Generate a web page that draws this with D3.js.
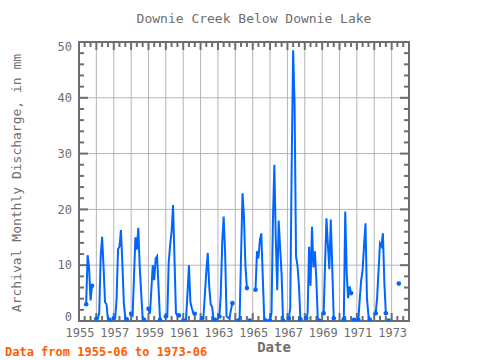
<!DOCTYPE html>
<html>
<head>
<meta charset="utf-8">
<script src="https://cdn.jsdelivr.net/npm/d3@7"></script>
<style>
  body { margin: 0; background: #fff; }
  text { font-family: "DejaVu Sans Mono", "Liberation Mono", monospace; }
</style>
</head>
<body>
<div id="chart"></div>
<script>
// monthly discharge (mm), Jan..Dec, null = no record
var n = null;
var q1955 = [n, n, n, n, n, 3.0, 11.8, 9.5, 3.7, 6.3, n, n];
var q1956 = [0.4, 0.5, 1.4, 11.6, 15.1, 9.6, 3.4, 3.0, 0.3, 0.2, n, n];
var q1957 = [0.5, 0.6, 3.8, 12.9, 13.3, 16.3, 10.3, 3.2, 0.5, 0.3, n, n];
var q1958 = [1.3, 1.0, 7.5, 15.0, 12.8, 16.7, 9.7, 5.0, 0.5, 0.2, n, n];
var q1959 = [2.2, 1.3, 5.3, 10.0, 7.3, 11.2, 11.6, 6.0, 0.2, n, n, n];
var q1960 = [0.8, 0.9, 10.4, 13.7, 16.0, 20.8, 11.2, 1.4, 1.0, 1.0, n, n];
var q1961 = [0.1, 0.2, 0.3, 5.0, 10.0, 3.4, 2.3, 1.4, 1.3, n, n, n];
var q1962 = [n, 0.5, 0.5, 4.7, 8.8, 12.2, 6.3, 3.0, 2.5, 0.2, 0.2, n];
var q1963 = [n, 0.8, 4.7, 14.0, 18.7, 12.2, 0.8, 0.6, 0.5, 2.0, 3.2, n];
var q1964 = [n, n, 0.1, 0.5, 11.6, 22.9, 18.7, 9.9, 5.9, n, 0.1, n];
var q1965 = [n, n, 5.6, 12.5, 11.2, 14.5, 15.7, 7.8, 0.3, 0.1, n, n];
var q1966 = [0.1, 1.4, 17.5, 28.0, 14.8, 5.5, 18.0, 13.1, 8.4, 0.1, n, n];
var q1967 = [n, 0.5, 2.3, 28.0, 48.5, 38.7, 11.6, 9.9, 6.3, 0.3, n, n];
var q1968 = [n, 0.5, 1.4, 13.3, 6.3, 16.9, 9.6, 12.5, 7.2, 0.3, 0.1, n];
var q1969 = [n, 1.4, 9.6, 18.4, 13.7, 9.3, 18.2, 9.6, 0.5, n, n, n];
var q1970 = [n, n, n, 0.3, 19.6, 8.5, 4.1, 6.2, 5.0, n, 0.2, n];
var q1971 = [n, 0.2, 3.8, 7.3, 9.1, 13.6, 17.5, 4.0, 1.0, 0.2, n, n];
var q1972 = [n, 1.4, 4.1, 9.1, 13.9, 13.4, 15.7, 6.8, 1.4, n, 0.1, n];
var q1973 = [n, n, n, n, n, 6.7, n, n, n, n, n, n];

var firstYear = 1955;
var yearly = [q1955, q1956, q1957, q1958, q1959, q1960, q1961, q1962, q1963, q1964,
              q1965, q1966, q1967, q1968, q1969, q1970, q1971, q1972, q1973];

var yTicks = [0, 10, 20, 30, 40, 50];
var xLabels = [1955, 1957, 1959, 1961, 1963, 1965, 1967, 1969, 1971, 1973];

var width = 480, height = 360,
    plotLeft = 79, plotRight = 409, plotTop = 42, plotBottom = 321,
    frameColor = "#6e6e6e", gridColor = "#b4b4b4", textColor = "#6e6e6e",
    lineColor = "#0066ff";

// flatten into month points
var points = [];
yearly.forEach(function(arr, i) {
    arr.forEach(function(v, m) {
        points.push({ date: new Date(firstYear + i, m, 1), v: v });
    });
});

var x = d3.scaleTime()
    .domain([new Date(1955, 0, 1), new Date(1974, 0, 1)])
    .range([plotLeft, plotRight]);

var y = d3.scaleLinear()
    .domain([0, 50])
    .range([plotBottom, plotTop]);

var svg = d3.select("#chart").append("svg")
    .attr("width", width)
    .attr("height", height);

svg.append("defs").append("clipPath").attr("id", "plot")
    .append("rect").attr("x", plotLeft).attr("y", plotTop)
    .attr("width", plotRight - plotLeft).attr("height", plotBottom - plotTop);

// grid
var years = d3.range(1956, 1974);
svg.selectAll(".vgrid").data(years).enter().append("line")
    .attr("x1", function(d) { return x(new Date(d, 0, 1)); })
    .attr("x2", function(d) { return x(new Date(d, 0, 1)); })
    .attr("y1", plotTop).attr("y2", plotBottom)
    .style("stroke", gridColor).style("stroke-width", 1);

svg.selectAll(".hgrid").data(yTicks.slice(1, -1)).enter().append("line")
    .attr("x1", plotLeft).attr("x2", plotRight)
    .attr("y1", function(d) { return y(d); })
    .attr("y2", function(d) { return y(d); })
    .style("stroke", gridColor).style("stroke-width", 1);

// ticks pointing inward on all four sides
var ticks = svg.append("g").style("stroke", frameColor).style("stroke-width", 2);
var monthTicks = d3.timeMonth.every(4).range(new Date(1955, 0, 1), new Date(1974, 0, 2));
monthTicks.forEach(function(t) {
    var len = t.getMonth() === 0 ? 8 : 5;
    var px = x(t);
    ticks.append("line").attr("x1", px).attr("x2", px).attr("y1", plotTop).attr("y2", plotTop + len);
    ticks.append("line").attr("x1", px).attr("x2", px).attr("y1", plotBottom).attr("y2", plotBottom - len);
});
d3.range(0, 51, 2).forEach(function(v) {
    var len = v % 10 === 0 ? 9 : 5;
    var py = y(v);
    ticks.append("line").attr("x1", plotLeft).attr("x2", plotLeft + len).attr("y1", py).attr("y2", py);
    ticks.append("line").attr("x1", plotRight).attr("x2", plotRight - len).attr("y1", py).attr("y2", py);
});

// frame
svg.append("rect")
    .attr("x", plotLeft).attr("y", plotTop)
    .attr("width", plotRight - plotLeft).attr("height", plotBottom - plotTop)
    .style("fill", "none").style("stroke", frameColor).style("stroke-width", 2);

// the data line
var line = d3.line()
    .defined(function(d) { return d.v !== null; })
    .x(function(d) { return x(d.date); })
    .y(function(d) { return y(d.v); });

var plot = svg.append("g").attr("clip-path", "url(#plot)");
plot.append("path")
    .datum(points)
    .attr("d", line)
    .style("fill", "none")
    .style("stroke", lineColor)
    .style("stroke-width", 2);

// markers on segment ends / lone points
var ends = points.filter(function(d, i) {
    if (d.v === null) return false;
    var prev = points[i - 1], next = points[i + 1];
    return !prev || prev.v === null || !next || next.v === null;
});
plot.selectAll(".dot").data(ends).enter().append("circle")
    .attr("cx", function(d) { return x(d.date); })
    .attr("cy", function(d) { return y(d.v); })
    .attr("r", 2.3)
    .style("fill", lineColor);

// y tick labels (end labels nudged inside the frame)
svg.selectAll(".ylab").data(yTicks).enter().append("text")
    .attr("x", 72)
    .attr("y", function(d) { return Math.min(Math.max(y(d), plotTop + 5), plotBottom - 4); })
    .attr("dy", "0.35em")
    .attr("text-anchor", "end")
    .attr("font-size", 12)
    .style("fill", textColor)
    .text(function(d) { return d; });

// x tick labels
svg.selectAll(".xlab").data(xLabels).enter().append("text")
    .attr("x", function(d) { return x(new Date(d, 0, 1)) + 1; })
    .attr("y", 333)
    .attr("dy", "0.35em")
    .attr("text-anchor", "middle")
    .attr("font-size", 12)
    .style("fill", textColor)
    .text(function(d) { return d; });

// titles
svg.append("text")
    .attr("x", 254).attr("y", 18).attr("dy", "0.35em")
    .attr("text-anchor", "middle").attr("font-size", 13)
    .style("fill", textColor)
    .text("Downie Creek Below Downie Lake");

svg.append("text")
    .attr("transform", "translate(16,183) rotate(-90)")
    .attr("dy", "0.35em")
    .attr("text-anchor", "middle").attr("font-size", 13)
    .style("fill", textColor)
    .text("Archival Monthly Discharge, in mm");

svg.append("text")
    .attr("x", 274).attr("y", 347).attr("dy", "0.35em")
    .attr("text-anchor", "middle").attr("font-size", 14)
    .attr("font-weight", "bold")
    .style("fill", textColor)
    .text("Date");

svg.append("text")
    .attr("x", 5).attr("y", 352).attr("dy", "0.35em")
    .attr("font-size", 12).attr("font-weight", "bold")
    .style("fill", "#ff6000")
    .text("Data from 1955-06 to 1973-06");
</script>
</body>
</html>
